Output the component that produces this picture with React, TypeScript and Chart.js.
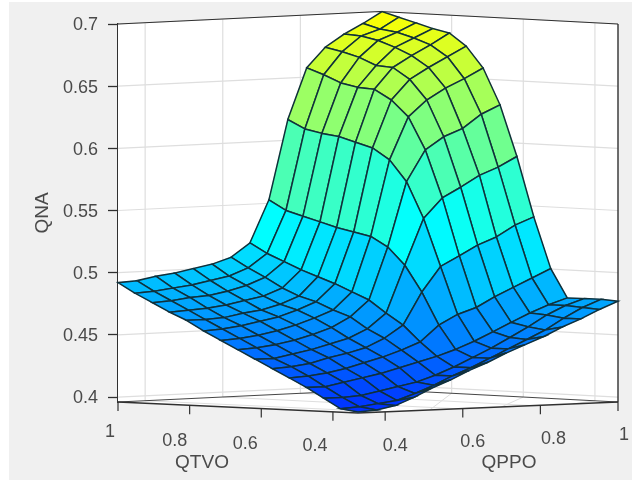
import React, { useEffect, useRef } from "react";
import { Chart, registerables } from "chart.js";

Chart.register(...registerables);

// Grid positions of both inputs
const qtvoGrid = [0.33, 0.378, 0.426, 0.474, 0.521, 0.569, 0.617, 0.665, 0.713, 0.761, 0.809, 0.856, 0.904, 0.952, 1];
const qppoGrid = [0.33, 0.378, 0.426, 0.474, 0.521, 0.569, 0.617, 0.665, 0.713, 0.761, 0.809, 0.856, 0.904, 0.952, 1];

// QNA per QTVO grid position, across QPPO grid positions
const qna0 = [0.396, 0.397, 0.4, 0.406, 0.413, 0.419, 0.426, 0.432, 0.439, 0.445, 0.451, 0.458, 0.464, 0.471, 0.477];
const qna1 = [0.398, 0.399, 0.401, 0.403, 0.408, 0.414, 0.421, 0.427, 0.434, 0.441, 0.448, 0.455, 0.464, 0.472, 0.478];
const qna2 = [0.406, 0.406, 0.407, 0.41, 0.413, 0.416, 0.421, 0.427, 0.434, 0.441, 0.449, 0.457, 0.466, 0.473, 0.478];
const qna3 = [0.414, 0.414, 0.417, 0.42, 0.423, 0.427, 0.431, 0.435, 0.44, 0.446, 0.453, 0.46, 0.467, 0.473, 0.478];
const qna4 = [0.421, 0.422, 0.424, 0.427, 0.431, 0.435, 0.44, 0.446, 0.459, 0.467, 0.472, 0.48, 0.487, 0.494, 0.501];
const qna5 = [0.428, 0.429, 0.431, 0.435, 0.438, 0.442, 0.449, 0.459, 0.485, 0.505, 0.513, 0.521, 0.527, 0.536, 0.542];
const qna6 = [0.435, 0.435, 0.438, 0.441, 0.445, 0.449, 0.456, 0.468, 0.506, 0.543, 0.559, 0.567, 0.576, 0.582, 0.59];
const qna7 = [0.442, 0.443, 0.445, 0.448, 0.452, 0.457, 0.465, 0.478, 0.52, 0.572, 0.597, 0.607, 0.613, 0.624, 0.631];
const qna8 = [0.449, 0.45, 0.452, 0.455, 0.459, 0.464, 0.47, 0.484, 0.528, 0.589, 0.623, 0.636, 0.645, 0.652, 0.66];
const qna9 = [0.456, 0.457, 0.459, 0.462, 0.465, 0.47, 0.476, 0.49, 0.531, 0.598, 0.636, 0.652, 0.661, 0.669, 0.677];
const qna10 = [0.464, 0.464, 0.465, 0.468, 0.47, 0.474, 0.48, 0.495, 0.534, 0.602, 0.644, 0.661, 0.67, 0.678, 0.687];
const qna11 = [0.47, 0.471, 0.472, 0.474, 0.477, 0.48, 0.486, 0.5, 0.538, 0.606, 0.645, 0.662, 0.676, 0.683, 0.69];
const qna12 = [0.477, 0.478, 0.48, 0.481, 0.484, 0.488, 0.494, 0.506, 0.542, 0.608, 0.648, 0.668, 0.681, 0.687, 0.694];
const qna13 = [0.484, 0.485, 0.487, 0.489, 0.492, 0.495, 0.501, 0.512, 0.546, 0.611, 0.654, 0.672, 0.684, 0.689, 0.698];
const qna14 = [0.492, 0.493, 0.496, 0.498, 0.501, 0.504, 0.509, 0.52, 0.554, 0.618, 0.659, 0.675, 0.685, 0.693, 0.702];
const qnaRows = [qna0, qna1, qna2, qna3, qna4, qna5, qna6, qna7, qna8, qna9, qna10, qna11, qna12, qna13, qna14];

const qnaTicks = [0.4, 0.45, 0.5, 0.55, 0.6, 0.65, 0.7];
const qtvoTicks = [1, 0.8, 0.6, 0.4];
const qppoTicks = [0.4, 0.6, 0.8, 1];
const xLabel = "QTVO";
const yLabel = "QPPO";
const zLabel = "QNA";

const OFFSET_X = 9;
const OFFSET_Y = 2;
const TEXT = "#4a4a4a";
const AXIS = "#303030";
const GRID = "#dedede";
const FONT = "'Liberation Sans', Arial, sans-serif";

const Q_MIN = 0.33;
const Q_SPAN = 0.67;
const Z_MIN = 0.396;
const Z_MAX = 0.7;
const Z_PX = 1243.4;

// Oblique view: the floor corners of the box, in the x units of the chart
const corner = { front: 358, left: 118, right: 618, back: 382 };
const floorY = { front: 412, drop: 10, base: 402 };

const norm = (q: number) => (q - Q_MIN) / Q_SPAN;

function projX(qt: number, qp: number) {
  const u = norm(qt);
  const v = norm(qp);
  return (
    corner.front +
    u * (corner.left - corner.front) +
    v * (corner.right - corner.front) +
    u * v * (corner.back - (corner.left + corner.right - corner.front))
  );
}

function projY(qt: number, qp: number, z: number) {
  const fy = floorY.front - floorY.drop * (norm(qt) + norm(qp));
  return z - (fy - floorY.base) / Z_PX;
}

function jet(p: number) {
  const c = (v: number) => Math.round(255 * Math.max(0, Math.min(1, v)));
  const r = Math.min(4 * p - 1.5, -4 * p + 4.5);
  const g = Math.min(4 * p - 0.5, -4 * p + 3.5);
  const b = Math.min(4 * p + 0.5, -4 * p + 2.5);
  return `rgb(${c(r)},${c(g)},${c(b)})`;
}

const colorOf = (z: number) => jet(0.625 + 1.5 * (z - 0.7));

function buildDatasets() {
  const cells: any[] = [];
  for (let s = 0; s <= 26; s++) {
    for (let a = 0; a < 14; a++) {
      const b = s - a;
      if (b < 0 || b >= 14) continue;
      const corners: [number, number][] = [
        [a, b],
        [a + 1, b],
        [a + 1, b + 1],
        [a, b + 1],
        [a, b],
      ];
      const data = corners.map(([i, j]) => ({
        x: projX(qtvoGrid[i], qppoGrid[j]),
        y: projY(qtvoGrid[i], qppoGrid[j], qnaRows[i][j]),
      }));
      const mean = (qnaRows[a][b] + qnaRows[a + 1][b] + qnaRows[a + 1][b + 1] + qnaRows[a][b + 1]) / 4;
      cells.push({
        data,
        showLine: true,
        fill: false,
        tension: 0,
        pointRadius: 0,
        borderWidth: 1.5,
        borderColor: "#10303a",
        backgroundColor: colorOf(mean),
        clip: false,
      });
    }
  }
  return cells;
}

const surfacePlugin = {
  id: "surface",
  beforeDatasetDraw(chart: any, args: any) {
    const pts = args.meta.data;
    const ctx = chart.ctx;
    ctx.save();
    ctx.beginPath();
    pts.forEach((p: any, i: number) => (i ? ctx.lineTo(p.x, p.y) : ctx.moveTo(p.x, p.y)));
    ctx.closePath();
    ctx.fillStyle = chart.data.datasets[args.index].backgroundColor;
    ctx.fill();
    ctx.strokeStyle = ctx.fillStyle;
    ctx.lineWidth = 0.5;
    ctx.stroke();
    ctx.restore();
  },
  beforeDatasetsDraw(chart: any) {
    const { ctx, scales } = chart;
    const sx = (x: number) => scales.x.getPixelForValue(x);
    const sy = (z: number) => scales.y.getPixelForValue(z);
    const backRise = 12.5;
    const backX = 380;
    const rise = (x: number) =>
      x <= backX ? (backRise * (x - corner.left)) / (backX - corner.left) : (backRise * (corner.right - x)) / (corner.right - backX);
    const line = (pts: [number, number][], color: string, w: number) => {
      ctx.save();
      ctx.strokeStyle = color;
      ctx.lineWidth = w;
      ctx.beginPath();
      pts.forEach(([x, y], i) => (i ? ctx.lineTo(x, y) : ctx.moveTo(x, y)));
      ctx.stroke();
      ctx.restore();
    };
    const top = sy(Z_MAX);
    const bottom = sy(Z_MIN);

    // white inside of the box
    ctx.save();
    ctx.fillStyle = "#ffffff";
    ctx.beginPath();
    ctx.moveTo(sx(corner.left), top);
    ctx.lineTo(sx(backX), top - backRise);
    ctx.lineTo(sx(corner.right), top);
    ctx.lineTo(sx(corner.right), bottom);
    ctx.lineTo(sx(corner.front), bottom + 11);
    ctx.lineTo(sx(corner.left), bottom);
    ctx.closePath();
    ctx.fill();
    ctx.restore();

    // horizontal wall grid at every QNA tick
    scales.y.ticks.forEach((t: any) => {
      const y = sy(t.value);
      line(
        [
          [sx(corner.left), y],
          [sx(backX), y - backRise],
          [sx(corner.right), y],
        ],
        GRID,
        1.2,
      );
    });
    // vertical wall grid
    qppoTicks.forEach((q) => {
      if (q === 1) return;
      const x = corner.left + (q - Q_MIN) * ((corner.right - corner.front) / Q_SPAN);
      line([[sx(x), top - rise(x)], [sx(x), bottom - rise(x)]], GRID, 1.2);
      line([[sx(x), bottom - rise(x)], [sx(x + corner.front - corner.left), bottom + 11 + (x - corner.left) * -0.038]], GRID, 1);
    });
    qtvoTicks.forEach((q) => {
      if (q === 1) return;
      const x = backX + (1 - q) * ((corner.front - corner.left) / Q_SPAN);
      line([[sx(x), top - rise(x)], [sx(x), bottom - rise(x)]], GRID, 1.2);
      line([[sx(x), bottom - rise(x)], [sx(x - (backX - corner.front)), bottom + 11 - (x - backX) * 0.042]], GRID, 1);
    });

    // box edges
    line([[sx(corner.left), top], [sx(backX), top - backRise], [sx(corner.right), top]], AXIS, 1.1);
    line([[sx(corner.left), bottom], [sx(backX), bottom - backRise], [sx(corner.right), bottom]], AXIS, 0.9);
    line([[sx(corner.left), bottom], [sx(corner.front), bottom + 11], [sx(corner.right), bottom]], AXIS, 1.4);
    line([[sx(corner.right), top], [sx(corner.right), bottom]], AXIS, 1.4);

    // oblique axis ticks
    qtvoTicks.forEach((q) => {
      const x = corner.left + (1 - q) * ((corner.front - corner.left) / Q_SPAN);
      const y = bottom + (11 * (x - corner.left)) / (corner.front - corner.left);
      line([[sx(x), y], [sx(x), y + 9]], AXIS, 1.2);
    });
    qppoTicks.forEach((q) => {
      const x = corner.right - (1 - q) * ((corner.right - corner.front) / Q_SPAN);
      const y = bottom + (11 * (corner.right - x)) / (corner.right - corner.front);
      line([[sx(x), y], [sx(x), y + 9]], AXIS, 1.2);
    });
  },
  afterDatasetsDraw(chart: any) {
    const { ctx, scales } = chart;
    const bottom = scales.y.getPixelForValue(Z_MIN);
    ctx.save();
    ctx.fillStyle = TEXT;
    ctx.textAlign = "center";
    ctx.textBaseline = "middle";
    ctx.font = `18px ${FONT}`;
    const sx = (x: number) => scales.x.getPixelForValue(x);
    const leftDy = [30, 39, 42, 44];
    const leftDx = [-8, -15, -16, -18];
    qtvoTicks.forEach((q, i) => {
      const x = corner.left + (1 - q) * ((corner.front - corner.left) / Q_SPAN);
      ctx.fillText(String(q), sx(x + leftDx[i]), bottom + leftDy[i]);
    });
    const rightDy = [44, 40, 37, 33];
    const rightDx = [10, 10, 13, 6];
    qppoTicks.forEach((q, i) => {
      const x = corner.right - (1 - q) * ((corner.right - corner.front) / Q_SPAN);
      ctx.fillText(String(q), sx(x + rightDx[i]), bottom + rightDy[i]);
    });
    ctx.font = `19px ${FONT}`;
    ctx.fillText(xLabel, sx(202), bottom + 61);
    ctx.fillText(yLabel, sx(509), bottom + 61);
    ctx.restore();
  },
};

export default function App() {
  const ref = useRef<HTMLCanvasElement>(null);
  useEffect(() => {
    if (!ref.current) return;
    const chart = new Chart(ref.current, {
      type: "scatter",
      data: { datasets: buildDatasets() },
      plugins: [surfacePlugin],
      options: {
        animation: false,
        responsive: false,
        layout: { padding: { left: 0, right: 632 - 618, top: 24 - OFFSET_Y, bottom: 480 - 402 } },
        plugins: { legend: { display: false }, tooltip: { enabled: false } },
        events: [],
        scales: {
          x: { type: "linear", display: false, min: corner.left, max: corner.right },
          y: {
            type: "linear",
            min: Z_MIN,
            max: Z_MAX,
            afterBuildTicks(scale: any) {
              scale.ticks = qnaTicks.map((value) => ({ value }));
            },
            afterFit(scale: any) {
              scale.width = 118 - OFFSET_X;
            },
            border: { display: true, color: AXIS, width: 1.5 },
            grid: { drawOnChartArea: false, drawTicks: true, tickLength: 10, tickColor: AXIS, tickWidth: 1.3 },
            ticks: {
              padding: 10,
              labelOffset: 1.5,
              color: TEXT,
              font: { family: FONT, size: 18 },
              callback: (v: any) => String(v),
            },
            title: {
              display: true,
              text: zLabel,
              color: TEXT,
              font: { family: FONT, size: 19 },
              padding: { top: 22, bottom: 0 },
            },
          },
        },
      } as any,
    });
    return () => chart.destroy();
  }, []);
  return (
    <div style={{ position: "absolute", left: 0, top: 0, width: 632, height: 480, background: "#fff", overflow: "hidden" }}>
      <canvas
        ref={ref}
        width={632 - OFFSET_X}
        height={480 - OFFSET_Y}
        style={{
          position: "absolute",
          left: OFFSET_X,
          top: OFFSET_Y,
          width: 632 - OFFSET_X,
          height: 480 - OFFSET_Y,
          background: "#f0f0f0",
          filter: "blur(0.45px)",
        }}
      />
    </div>
  );
}
